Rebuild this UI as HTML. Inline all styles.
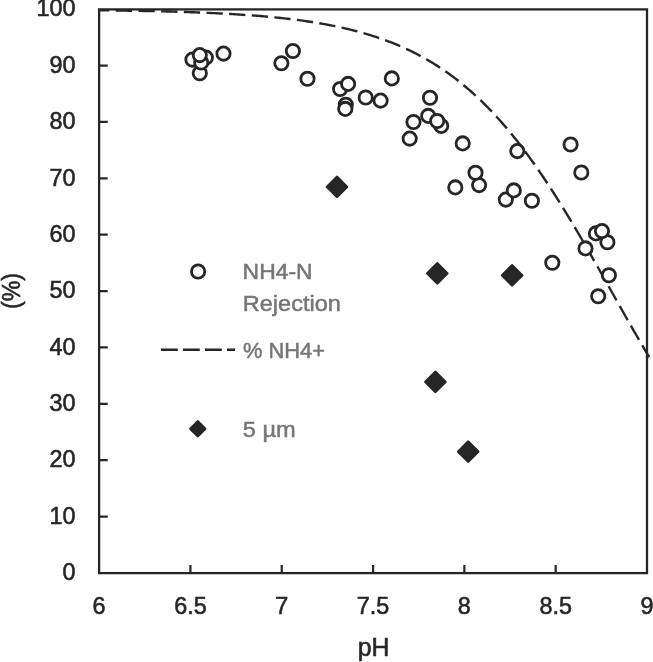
<!DOCTYPE html>
<html lang="en"><head><meta charset="utf-8"><title>NH4-N Rejection vs pH</title>
<style>html,body{margin:0;padding:0;background:#fff}svg{display:block}text{font-family:"Liberation Sans",sans-serif}</style></head><body>
<svg width="653" height="662" viewBox="0 0 653 662">
<rect width="653" height="662" fill="#fff"/>
<path d="M99.10 10.28L100.93 10.30L102.77 10.32L104.60 10.35L106.43 10.37L108.27 10.39L110.10 10.41L111.94 10.44L113.77 10.46L115.60 10.49L117.44 10.51L119.27 10.54L121.10 10.56L122.94 10.59L124.77 10.62L126.60 10.65L128.44 10.68L130.27 10.71L132.11 10.74L133.94 10.77L135.77 10.80L137.61 10.83L139.44 10.86L141.27 10.90L143.11 10.93L144.94 10.97L146.77 11.01L148.61 11.04L150.44 11.08L152.28 11.12L154.11 11.16L155.94 11.20L157.78 11.24L159.61 11.29L161.44 11.33L163.28 11.38L165.11 11.42L166.94 11.47L168.78 11.52L170.61 11.57L172.45 11.62L174.28 11.67L176.11 11.72L177.95 11.78L179.78 11.83L181.61 11.89L183.45 11.95L185.28 12.01L187.11 12.07L188.95 12.13L190.78 12.19L192.62 12.26L194.45 12.32L196.28 12.39L198.12 12.46L199.95 12.53L201.78 12.60L203.62 12.68L205.45 12.76L207.28 12.83L209.12 12.91L210.95 13.00L212.79 13.08L214.62 13.16L216.45 13.25L218.29 13.34L220.12 13.43L221.95 13.53L223.79 13.62L225.62 13.72L227.45 13.82L229.29 13.92L231.12 14.03L232.96 14.13L234.79 14.24L236.62 14.36L238.46 14.47L240.29 14.59L242.12 14.71L243.96 14.83L245.79 14.96L247.62 15.09L249.46 15.22L251.29 15.35L253.13 15.49L254.96 15.63L256.79 15.78L258.63 15.92L260.46 16.07L262.29 16.23L264.13 16.39L265.96 16.55L267.79 16.71L269.63 16.88L271.46 17.05L273.30 17.23L275.13 17.41L276.96 17.60L278.80 17.78L280.63 17.98L282.46 18.17L284.30 18.38L286.13 18.58L287.96 18.79L289.80 19.01L291.63 19.23L293.47 19.46L295.30 19.69L297.13 19.92L298.97 20.17L300.80 20.41L302.63 20.66L304.47 20.92L306.30 21.19L308.13 21.46L309.97 21.73L311.80 22.01L313.64 22.30L315.47 22.60L317.30 22.90L319.14 23.21L320.97 23.52L322.80 23.84L324.64 24.17L326.47 24.51L328.30 24.85L330.14 25.20L331.97 25.56L333.81 25.93L335.64 26.30L337.47 26.69L339.31 27.08L341.14 27.48L342.97 27.89L344.81 28.31L346.64 28.73L348.47 29.17L350.31 29.61L352.14 30.07L353.98 30.54L355.81 31.01L357.64 31.50L359.48 31.99L361.31 32.50L363.14 33.02L364.98 33.55L366.81 34.09L368.64 34.64L370.48 35.20L372.31 35.78L374.15 36.36L375.98 36.96L377.81 37.57L379.65 38.20L381.48 38.84L383.31 39.49L385.15 40.16L386.98 40.83L388.81 41.53L390.65 42.24L392.48 42.96L394.32 43.69L396.15 44.45L397.98 45.21L399.82 46.00L401.65 46.80L403.48 47.61L405.32 48.44L407.15 49.29L408.98 50.16L410.82 51.04L412.65 51.94L414.49 52.86L416.32 53.80L418.15 54.75L419.99 55.72L421.82 56.72L423.65 57.73L425.49 58.76L427.32 59.81L429.15 60.88L430.99 61.97L432.82 63.09L434.66 64.22L436.49 65.37L438.32 66.55L440.16 67.75L441.99 68.97L443.82 70.21L445.66 71.48L447.49 72.77L449.32 74.08L451.16 75.41L452.99 76.77L454.83 78.16L456.66 79.56L458.49 81.00L460.33 82.45L462.16 83.94L463.99 85.45L465.83 86.98L467.66 88.54L469.50 90.12L471.33 91.74L473.16 93.38L475.00 95.04L476.83 96.73L478.66 98.45L480.50 100.20L482.33 101.98L484.16 103.78L486.00 105.61L487.83 107.47L489.67 109.35L491.50 111.27L493.33 113.21L495.17 115.19L497.00 117.19L498.83 119.22L500.67 121.27L502.50 123.36L504.33 125.48L506.17 127.62L508.00 129.80L509.84 132.00L511.67 134.23L513.50 136.50L515.34 138.79L517.17 141.10L519.00 143.45L520.84 145.83L522.67 148.23L524.50 150.67L526.34 153.13L528.17 155.62L530.01 158.13L531.84 160.68L533.67 163.25L535.51 165.85L537.34 168.48L539.17 171.13L541.01 173.81L542.84 176.52L544.67 179.25L546.51 182.00L548.34 184.78L550.18 187.59L552.01 190.42L553.84 193.27L555.68 196.15L557.51 199.04L559.34 201.96L561.18 204.91L563.01 207.87L564.84 210.85L566.68 213.85L568.51 216.87L570.35 219.91L572.18 222.97L574.01 226.05L575.85 229.14L577.68 232.25L579.51 235.37L581.35 238.51L583.18 241.66L585.01 244.82L586.85 248.00L588.68 251.18L590.52 254.38L592.35 257.59L594.18 260.80L596.02 264.03L597.85 267.26L599.68 270.49L601.52 273.74L603.35 276.98L605.18 280.24L607.02 283.49L608.85 286.75L610.69 290.00L612.52 293.26L614.35 296.52L616.19 299.78L618.02 303.03L619.85 306.28L621.69 309.53L623.52 312.77L625.35 316.00L627.19 319.23L629.02 322.45L630.86 325.67L632.69 328.87L634.52 332.07L636.36 335.25L638.19 338.42L640.02 341.58L641.86 344.73L643.69 347.87L645.52 350.98L647.36 354.09L649.19 357.18" fill="none" stroke="#262626" stroke-width="2.4" stroke-dasharray="16.3 6.38" stroke-dashoffset="6"/>
<rect x="99.1" y="9.4" width="547.9" height="563.7" fill="none" stroke="#262626" stroke-width="2.3"/>
<path d="M99.1 516.53h8.6M99.1 460.16h8.6M99.1 403.79h8.6M99.1 347.42h8.6M99.1 291.05h8.6M99.1 234.68h8.6M99.1 178.31h8.6M99.1 121.94h8.6M99.1 65.57h8.6M190.42 573.1v-8M281.73 573.1v-8M373.05 573.1v-8M464.37 573.1v-8M555.68 573.1v-8" fill="none" stroke="#262626" stroke-width="2.2"/>
<g fill="#fff" stroke="#262626" stroke-width="2.8">
<circle cx="192.4" cy="59.6" r="6.65"/>
<circle cx="199.8" cy="73.3" r="6.65"/>
<circle cx="205.9" cy="57.6" r="6.65"/>
<circle cx="201.2" cy="62.5" r="6.65"/>
<circle cx="199.8" cy="55.1" r="6.65"/>
<circle cx="223.5" cy="53.6" r="6.65"/>
<circle cx="281.4" cy="63.2" r="6.65"/>
<circle cx="292.9" cy="51.0" r="6.65"/>
<circle cx="307.5" cy="78.7" r="6.65"/>
<circle cx="340.1" cy="89.0" r="6.65"/>
<circle cx="348.1" cy="83.9" r="6.65"/>
<circle cx="345.8" cy="104.8" r="6.65"/>
<circle cx="345.3" cy="108.9" r="6.65"/>
<circle cx="365.7" cy="97.5" r="6.65"/>
<circle cx="380.6" cy="100.6" r="6.65"/>
<circle cx="391.8" cy="78.4" r="6.65"/>
<circle cx="409.7" cy="138.6" r="6.65"/>
<circle cx="413.5" cy="122.0" r="6.65"/>
<circle cx="430.0" cy="97.7" r="6.65"/>
<circle cx="428.2" cy="115.9" r="6.65"/>
<circle cx="441.2" cy="125.9" r="6.65"/>
<circle cx="437.2" cy="121.0" r="6.65"/>
<circle cx="462.7" cy="143.4" r="6.65"/>
<circle cx="455.3" cy="187.4" r="6.65"/>
<circle cx="479.1" cy="185.1" r="6.65"/>
<circle cx="475.5" cy="172.8" r="6.65"/>
<circle cx="505.8" cy="199.6" r="6.65"/>
<circle cx="513.8" cy="190.4" r="6.65"/>
<circle cx="531.9" cy="200.7" r="6.65"/>
<circle cx="517.3" cy="151.1" r="6.65"/>
<circle cx="552.3" cy="262.8" r="6.65"/>
<circle cx="570.6" cy="144.5" r="6.65"/>
<circle cx="581.3" cy="172.5" r="6.65"/>
<circle cx="585.5" cy="248.4" r="6.65"/>
<circle cx="595.9" cy="233.4" r="6.65"/>
<circle cx="607.4" cy="242.3" r="6.65"/>
<circle cx="602.0" cy="231.1" r="6.65"/>
<circle cx="608.9" cy="275.2" r="6.65"/>
<circle cx="598.2" cy="296.2" r="6.65"/>
</g>
<path d="M337.0 176.9L347.0 186.9L337.0 196.9L327.0 186.9Z" fill="#262626" stroke="#262626" stroke-width="2.6" stroke-linejoin="round"/>
<path d="M437.3 263.3L447.3 273.3L437.3 283.3L427.3 273.3Z" fill="#262626" stroke="#262626" stroke-width="2.6" stroke-linejoin="round"/>
<path d="M512.1 265.3L522.1 275.3L512.1 285.3L502.1 275.3Z" fill="#262626" stroke="#262626" stroke-width="2.6" stroke-linejoin="round"/>
<path d="M435.4 371.9L445.4 381.9L435.4 391.9L425.4 381.9Z" fill="#262626" stroke="#262626" stroke-width="2.6" stroke-linejoin="round"/>
<path d="M468.2 441.7L478.2 451.7L468.2 461.7L458.2 451.7Z" fill="#262626" stroke="#262626" stroke-width="2.6" stroke-linejoin="round"/>
<circle cx="198.1" cy="271.5" r="6.65" fill="#fff" stroke="#262626" stroke-width="2.8"/>
<path d="M161 349.7H235" fill="none" stroke="#262626" stroke-width="2.4" stroke-dasharray="16.8 5.2"/>
<path d="M197.8 421.4L205.2 428.8L197.8 436.2L190.4 428.8Z" fill="#262626" stroke="#262626" stroke-width="2.6" stroke-linejoin="round"/>
<g fill="#767676" stroke="#767676" stroke-width="0.5" font-size="22.6px">
<text x="242.6" y="279" textLength="70" lengthAdjust="spacingAndGlyphs">NH4-N</text>
<text x="242.8" y="310.5" textLength="98" lengthAdjust="spacingAndGlyphs">Rejection</text>
<text x="243.0" y="357.6" textLength="82" lengthAdjust="spacingAndGlyphs">% NH4+</text>
<text x="242.8" y="436.6" textLength="53" lengthAdjust="spacingAndGlyphs">5 µm</text>
</g>
<g fill="#262626" stroke="#262626" stroke-width="0.6" font-size="24.5px">
<text transform="translate(75.60 580.10) scale(0.955 1)" text-anchor="end">0</text>
<text transform="translate(75.60 523.73) scale(0.955 1)" text-anchor="end">10</text>
<text transform="translate(75.60 467.36) scale(0.955 1)" text-anchor="end">20</text>
<text transform="translate(75.60 410.99) scale(0.955 1)" text-anchor="end">30</text>
<text transform="translate(75.60 354.62) scale(0.955 1)" text-anchor="end">40</text>
<text transform="translate(75.60 298.25) scale(0.955 1)" text-anchor="end">50</text>
<text transform="translate(75.60 241.88) scale(0.955 1)" text-anchor="end">60</text>
<text transform="translate(75.60 185.51) scale(0.955 1)" text-anchor="end">70</text>
<text transform="translate(75.60 129.14) scale(0.955 1)" text-anchor="end">80</text>
<text transform="translate(75.60 72.77) scale(0.955 1)" text-anchor="end">90</text>
<text transform="translate(75.60 16.40) scale(0.955 1)" text-anchor="end">100</text>
<text transform="translate(99.10 614.00) scale(0.955 1)" text-anchor="middle">6</text>
<text transform="translate(190.42 614.00) scale(0.955 1)" text-anchor="middle">6.5</text>
<text transform="translate(281.73 614.00) scale(0.955 1)" text-anchor="middle">7</text>
<text transform="translate(373.05 614.00) scale(0.955 1)" text-anchor="middle">7.5</text>
<text transform="translate(464.37 614.00) scale(0.955 1)" text-anchor="middle">8</text>
<text transform="translate(555.68 614.00) scale(0.955 1)" text-anchor="middle">8.5</text>
<text transform="translate(647.00 614.00) scale(0.955 1)" text-anchor="middle">9</text>
<text transform="translate(373.60 656.30) scale(0.98 1)" text-anchor="middle" font-size="25.3px">pH</text>
<text transform="translate(19.50 291.00) rotate(-90) scale(0.875 1)" text-anchor="middle" font-size="26.5px">(%)</text>
</g>
</svg></body></html>
